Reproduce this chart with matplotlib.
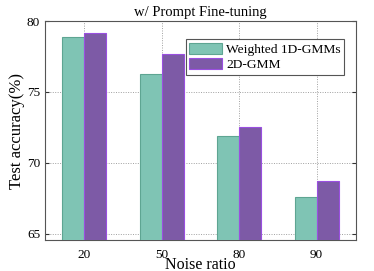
import matplotlib
matplotlib.use("Agg")
import matplotlib.pyplot as plt
import numpy as np

plt.rcParams['font.family'] = ['Liberation Serif', 'DejaVu Serif']

# data
noise = ["20", "50", "80", "90"]
acc_1d = [78.85, 76.3, 71.88, 67.56]
acc_2d = [79.13, 77.68, 72.5, 68.7]

x = np.arange(len(noise))
w = 0.285

fig, ax = plt.subplots(figsize=(3.74, 2.71), dpi=100)
fig.subplots_adjust(left=0.12, right=0.952, top=0.922, bottom=0.113)

ax.bar(x - w / 2, acc_1d, w, color="#7fc4b4", edgecolor="#5ea592", linewidth=0.8,
       label="Weighted 1D-GMMs", zorder=3)
ax.bar(x + w / 2, acc_2d, w, color="#7d5aa6", edgecolor="#9a4fe0", linewidth=0.8,
       label="2D-GMM", zorder=3)

ax.set_xticks(x)
ax.set_xticklabels(noise)
ax.set_yticks([65, 70, 75, 80])
ax.set_xlim(-0.51, 3.51)
ax.set_ylim(64.53, 80)

ax.grid(True, linestyle=(0, (1, 1.5)), color="#a0a0a0", linewidth=0.7, zorder=0)
ax.tick_params(axis="both", labelsize=9.5, direction="in", length=3,
               right=True, top=False, color="#333333")
ax.tick_params(axis="x", length=0, pad=6)
for s in ax.spines.values():
    s.set_color("#555555")
    s.set_linewidth(0.8)

ax.set_title("w/ Prompt Fine-tuning", fontsize=10.5, pad=4)
ax.set_xlabel("Noise ratio", fontsize=11.5, labelpad=-3)
ax.set_ylabel("Test accuracy(%)", fontsize=12, labelpad=1)

leg = ax.legend(loc="upper right", bbox_to_anchor=(0.962, 0.917), fontsize=9.7,
                fancybox=False, framealpha=1, edgecolor="#555555",
                handlelength=2.45, handleheight=0.9, borderpad=0.25,
                labelspacing=0.15, handletextpad=0.3, borderaxespad=0)
leg.get_frame().set_linewidth(0.8)

fig.savefig("out.png", dpi=100)
